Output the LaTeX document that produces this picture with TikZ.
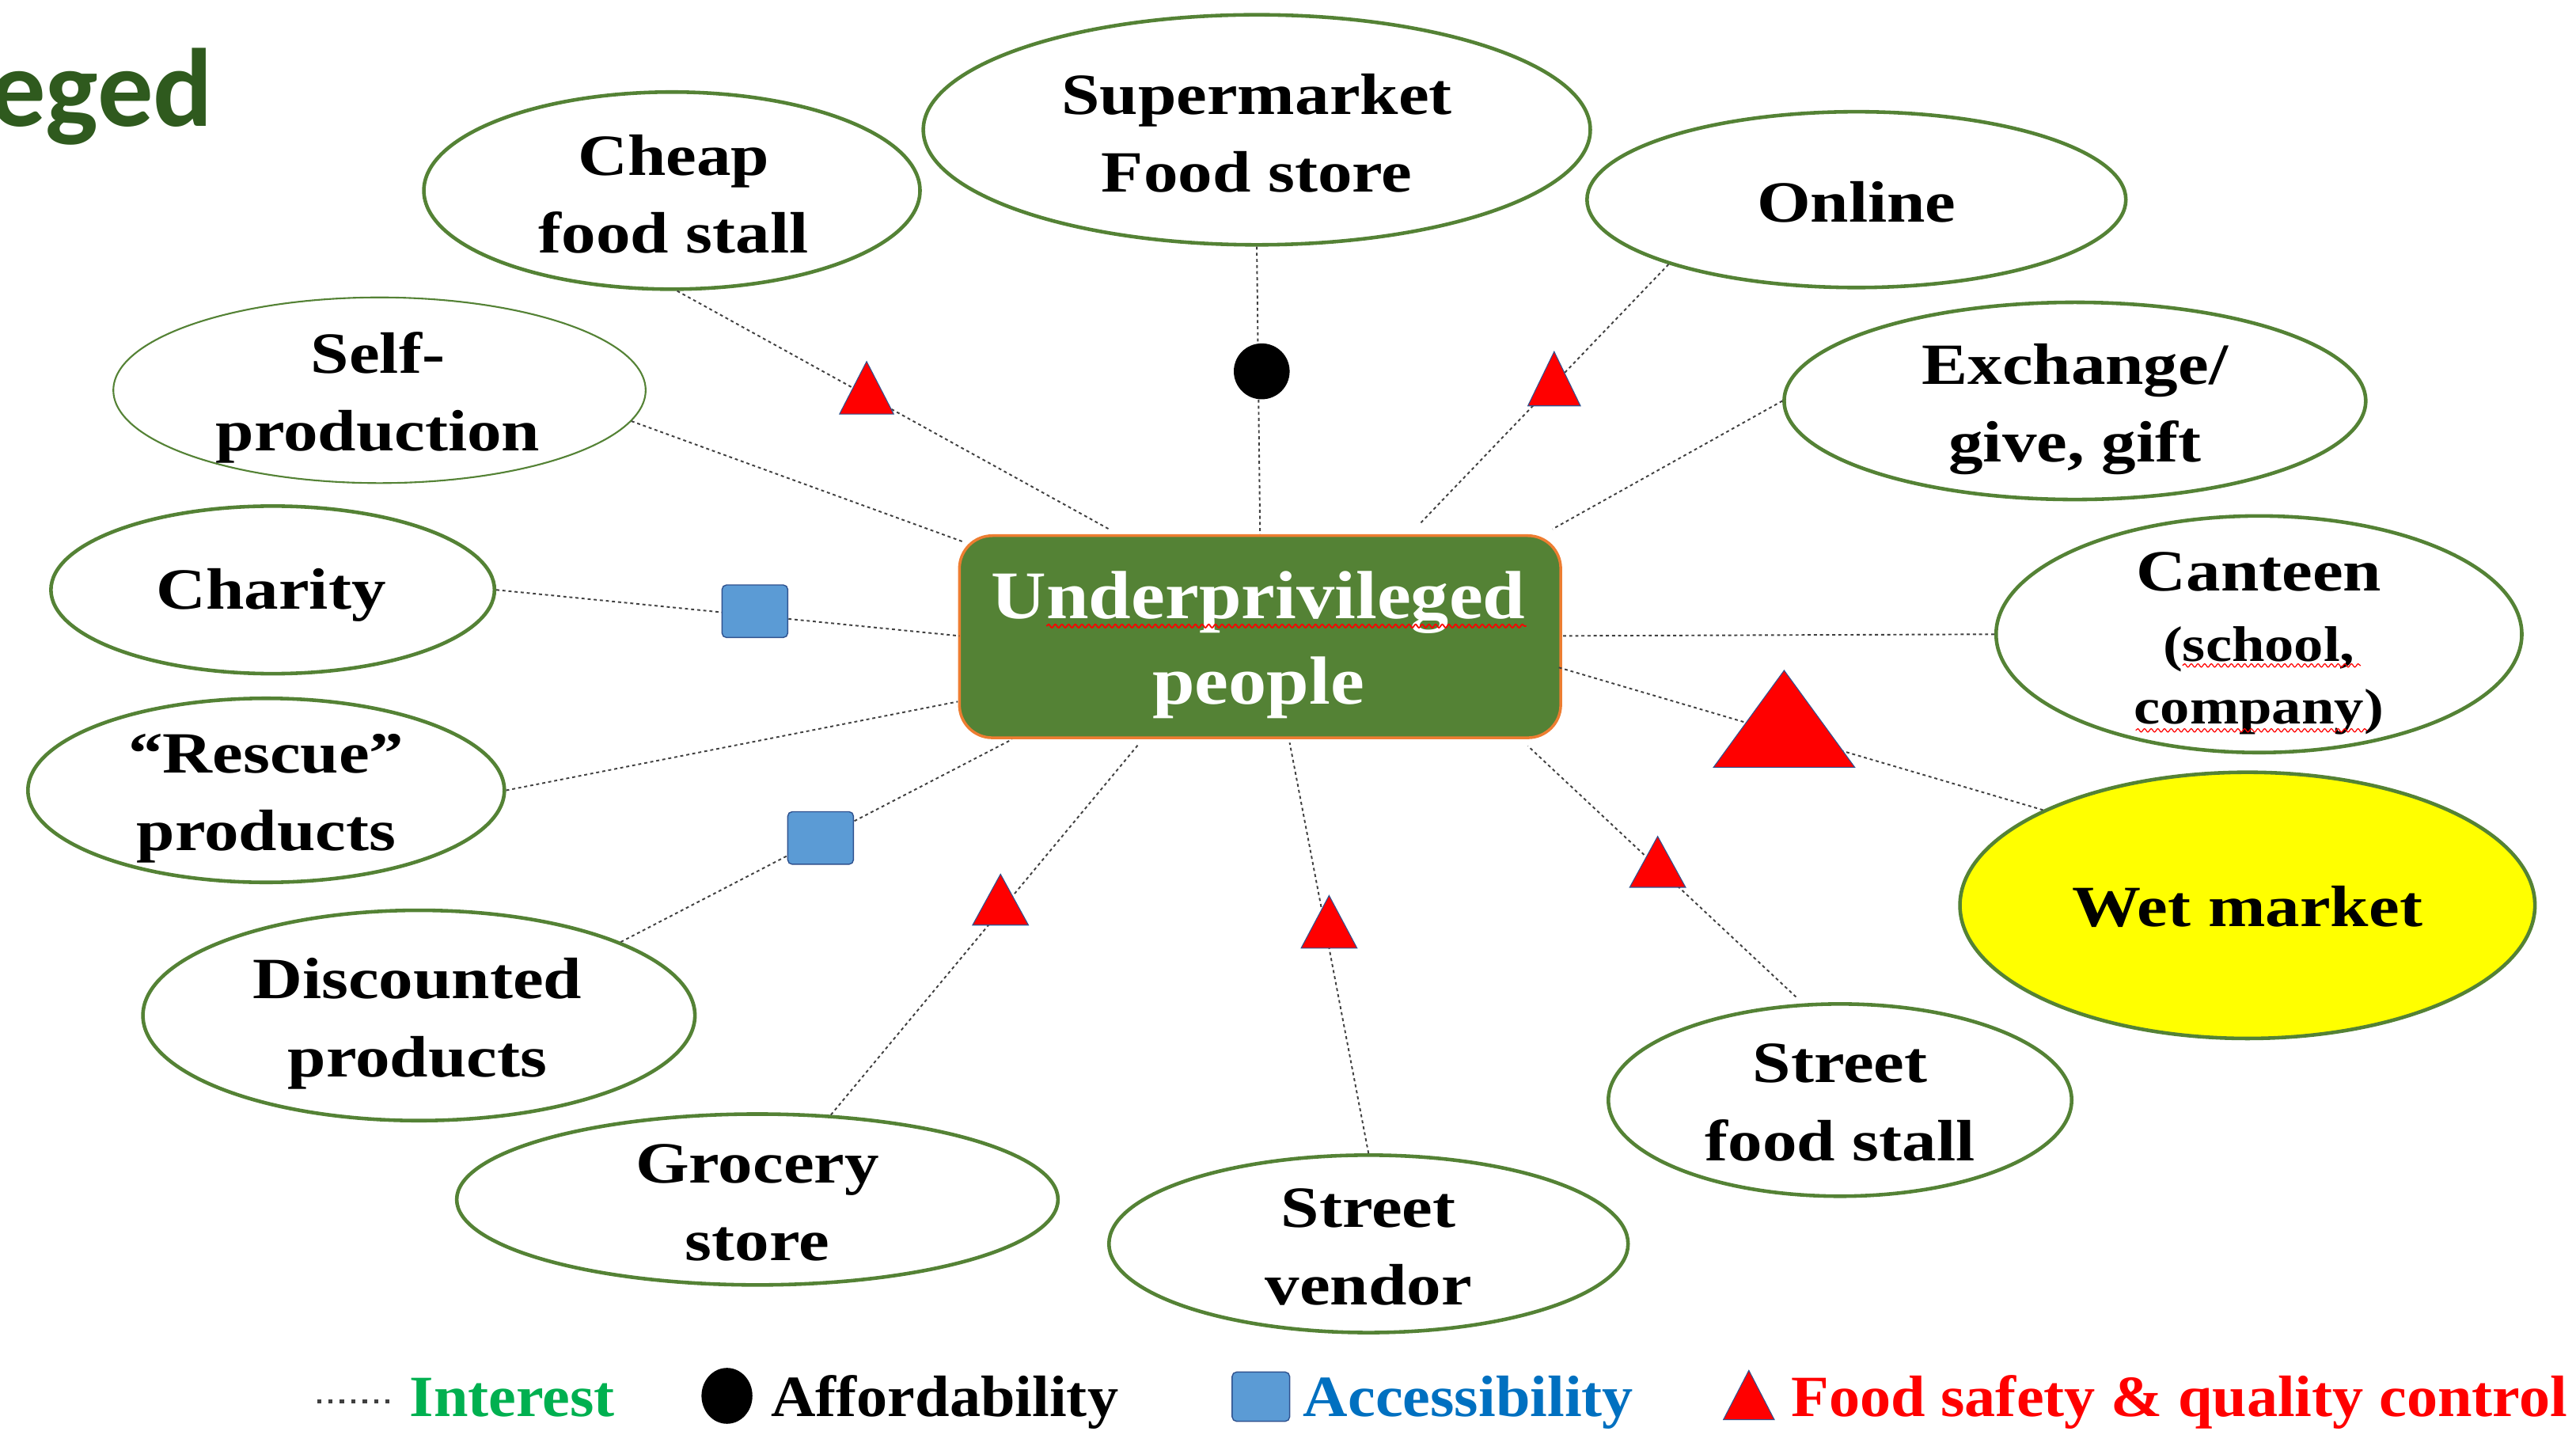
\documentclass[tikz,border=0pt]{standalone}
\usepackage{fontspec}
\setmainfont[FakeStretch=1.12]{Liberation Serif}
\newfontfamily\bubfam[FakeStretch=1.18]{Liberation Serif}
\newfontfamily\legfam[FakeStretch=1.06]{Liberation Serif}
\newfontfamily\titlefont{Carlito}
\usetikzlibrary{decorations.pathmorphing,calc,shapes.geometric}
\definecolor{grn}{HTML}{548235}
\definecolor{org}{HTML}{ED7D31}
\definecolor{blu}{HTML}{5B9BD5}
\definecolor{edge}{HTML}{2F528F}
\definecolor{titlegrn}{HTML}{2F5A1E}
\definecolor{intgrn}{HTML}{00B050}
\definecolor{accblu}{HTML}{0070C0}
\definecolor{wetyel}{HTML}{FFFF00}
\def\U{0.02076}
\tikzset{
  x=0.02076cm,y=-0.02076cm,
  bub/.style n args={2}{draw=grn,fill=white,line width=1.3pt,ellipse,inner sep=0pt,
    minimum width=2*#1*\U cm,minimum height=2*#2*\U cm},
  bubtxt/.style={align=center,inner sep=0pt,font=\bubfam\fontsize{21}{28}\selectfont\bfseries},
  link/.style={draw=black!75,line width=0.55pt,dash pattern=on 1.1pt off 1.1pt},
  squig/.style={draw=red,line width=0.5pt,decorate,decoration={snake,segment length=2.4pt,amplitude=0.6pt}},
  squarem/.style={draw=edge,fill=blu,line width=0.4pt,rounded corners=1.6pt,inner sep=0pt,minimum width=40*\U cm,minimum height=32*\U cm},
  circm/.style={circle,fill=black,inner sep=0pt,minimum size=34*\U cm},
  trim/.style={fill=red,draw=edge,line width=0.3pt},
  legend/.style={anchor=base west,inner sep=0pt,font=\legfam\fontsize{21}{28}\selectfont\bfseries},
}
\newcommand\bubble[8][]{%
  \node[bub={#5}{#6},#1] (#2) at (#3,#4) {};
  \node[bubtxt] (#2t) at (#7) {#8};
}
\newcommand\trimark[5]{%
  \coordinate (#1) at (#2,#3);
  \path[trim] ($(#1)+(-#4/2,#5/2)$) -- ($(#1)+(0,-#5/2)$) -- ($(#1)+(#4/2,#5/2)$) -- cycle;
}
\begin{document}
\begin{tikzpicture}
\useasboundingbox (0,0) rectangle (1568,875.7);
\clip (0,0) rectangle (1568,875.7);
\node[anchor=base east,inner sep=0pt,text=titlegrn,font=\titlefont\fontsize{40}{44}\selectfont\bfseries] (title) at (130,77) {eged};

\bubble{super}{765}{79}{203}{70}{765,81}{Supermarket\\Food store}
\bubble{cheap}{409}{116}{151}{60}{410,118}{Cheap\\food stall}
\bubble{online}{1130}{121.5}{164}{53.5}{1130,123}{Online}
\bubble{exch}{1263}{244}{177}{60}{1263,249}{Exchange/\\give, gift}
\bubble[line width=0.6pt]{self}{231}{237.5}{162}{56.5}{230,242}{Self-\\production}
\bubble{charity}{166}{359}{135}{51}{165,362}{Charity}
\bubble{canteen}{1375}{386}{160}{72}{1375,391.5}{Canteen\\[-2.5pt]{\fontsize{18}{20}\selectfont (school,}\\[-5.5pt]{\fontsize{18}{20}\selectfont company)}}
\bubble{rescue}{162}{481}{145}{56}{162,486}{“Rescue”\\products}
\bubble[fill=wetyel]{wet}{1368}{551}{175}{81}{1368,552}{Wet market}
\bubble{disc}{255}{618}{168}{64}{254,623}{Discounted\\products}
\bubble{sfood}{1120}{669.5}{141}{58.5}{1120,671}{Street\\food stall}
\bubble{groc}{461}{730}{183}{52}{461,732}{Grocery\\store}
\bubble{vend}{833}{757}{158}{54}{833,759}{Street\\vendor}

\node[draw=org,fill=grn,line width=1pt,rounded corners=20*\U cm,minimum width=366*\U cm,minimum height=123*\U cm,inner sep=0pt] (hub) at (767,387.5) {};
\node[align=center,inner sep=0pt,text=white,font=\fontsize{24.5}{30.7}\selectfont\bfseries] (hubt) at (766,392.5) {Underprivileged\\people};

\coordinate (h1) at (675,322);
\coordinate (h3) at (864,319);
\coordinate (h4) at (945,322);
\coordinate (h5) at (587,330);
\coordinate (h6) at (584,387);
\coordinate (h7) at (950,387);
\coordinate (h8) at (583,427);
\coordinate (h9) at (948,406);
\coordinate (h10) at (616,450);
\coordinate (h11) at (693,453);
\coordinate (h12) at (785,452);
\coordinate (h13) at (930,454);

\draw[link] (cheap.-87) -- (h1);
\draw[link] (super.south) -- (hub.north);
\draw[link] (online.199) -- (h3);
\draw[link] (exch.180) -- (h4);
\draw[link] (self.-7) -- (h5);
\draw[link] (charity.0) -- (h6);
\draw[link] (canteen.180) -- (h7);
\draw[link] (rescue.0) -- (h8);
\draw[link] (wet.155.6) -- (h9);
\draw[link] (disc.20.8) -- (h10);
\draw[link] (groc.49.6) -- (h11);
\draw[link] (vend.north) -- (h12);
\draw[link,shorten <=0.12cm] (sfood.111.5) -- (h13);

\trimark{t1}{527.5}{236}{33}{32}
\trimark{t2}{946}{230.5}{32}{33}
\trimark{t3}{1086}{437.5}{86}{59}
\trimark{t4}{609}{547.5}{34}{31}
\trimark{t5}{809}{561}{34}{32}
\trimark{t6}{1009}{524.5}{34}{31}
\node[circm] (c1) at (768,226) {};
\node[squarem] (s1) at (459.5,372) {};
\node[squarem] (s2) at (499.5,510) {};

\draw[squig] (637,381) -- (929,381);
\draw[squig,line width=0.35pt] (1328.5,405) -- (1437,405);
\draw[squig,line width=0.35pt] (1300,444.5) -- (1441,444.5);

% legend
\coordinate (l0) at (193,853);
\coordinate (l1) at (237,853);
\draw[link,line width=1.3pt,dash pattern=on 1.5pt off 2.6pt] (l0) -- (l1);
\node[legend,text=intgrn] (li) at (249,862) {Interest};
\node[fill=black,ellipse,inner sep=0pt,minimum width=31*\U cm,minimum height=34*\U cm] (lc) at (442.5,849.5) {};
\node[legend] (la) at (469,862) {Affordability};
\node[squarem,minimum width=35*\U cm,minimum height=30*\U cm] (ls) at (767.5,850) {};
\node[legend,text=accblu] (lb) at (793,862) {Accessibility};
\trimark{lt}{1064.5}{849}{31}{30}
\node[legend,text=red] (lf) at (1090,862) {Food safety \& quality control};
\end{tikzpicture}
\end{document}
